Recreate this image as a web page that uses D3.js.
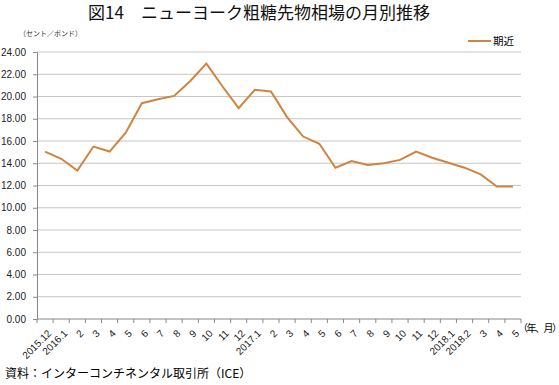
<!DOCTYPE html>
<html>
<head>
<meta charset="utf-8">
<script src="https://cdn.jsdelivr.net/npm/d3@7"></script>
<style>
  body { margin: 0; background: #fff; }
  text { font-family: "Liberation Sans", Arial, "Noto Sans CJK JP", sans-serif; }
  .jp { font-family: "Noto Sans CJK JP", sans-serif; }
</style>
</head>
<body>
<div id="chart"></div>
<script>
// data
var months = ["2015.12","2016.1","2","3","4","5","6","7","8","9","10","11","12",
              "2017.1","2","3","4","5","6","7","8","9","10","11","12",
              "2018.1","2018.2","3","4","5"];
var kikin = [15.05, 14.4, 13.35, 15.5, 15.05, 16.75, 19.4, 19.75, 20.05, 21.4, 22.95, 20.9, 18.95,
             20.6, 20.45, 18.15, 16.4, 15.75, 13.6, 14.2, 13.85, 14.0, 14.3, 15.05, 14.5,
             14.05, 13.6, 13.0, 11.9, 11.9];
var yTicks = [0, 2, 4, 6, 8, 10, 12, 14, 16, 18, 20, 22, 24];

var width = 559, height = 385;
var plotL = 37, plotR = 521, plotT = 52, plotB = 319;

var svg = d3.select("#chart").append("svg")
    .attr("width", width)
    .attr("height", height);

var x = d3.scaleBand()
    .domain(d3.range(months.length))
    .range([plotL, plotR]);

var y = d3.scaleLinear()
    .domain([0, 24])
    .range([plotB, plotT]);

// title
svg.append("text")
    .attr("class", "jp")
    .attr("x", 259).attr("y", 19)
    .attr("text-anchor", "middle")
    .style("font-size", "17px")
    .style("fill", "#111")
    .text("図14　ニューヨーク粗糖先物相場の月別推移");

svg.append("text")
    .attr("class", "jp")
    .attr("x", 19).attr("y", 36)
    .style("font-size", "7px")
    .style("fill", "#333")
    .text("（セント／ポンド）");

// grid
svg.append("g")
    .selectAll("line")
    .data(yTicks.filter(function(d) { return d > 0; }))
    .enter().append("line")
    .attr("x1", plotL).attr("x2", plotR)
    .attr("y1", function(d) { return y(d); })
    .attr("y2", function(d) { return y(d); })
    .style("stroke", "#c6c6c6")
    .style("stroke-width", 1);

// y axis
var yAxis = svg.append("g")
    .attr("transform", "translate(" + plotL + ",0)")
    .call(d3.axisLeft(y).tickValues(yTicks).tickSize(4).tickPadding(7)
          .tickFormat(d3.format(".2f")));
yAxis.select(".domain").style("stroke", "#888");
yAxis.selectAll(".tick line").style("stroke", "#888");
yAxis.selectAll("text").style("font-size", "10px").style("fill", "#222");

// x axis
var xAxis = svg.append("g")
    .attr("transform", "translate(0," + plotB + ")");
xAxis.append("line")
    .attr("x1", plotL).attr("x2", plotR)
    .style("stroke", "#888");
xAxis.selectAll("line.tk")
    .data(d3.range(months.length + 1))
    .enter().append("line")
    .attr("class", "tk")
    .attr("x1", function(i) { return plotL + i * x.step(); })
    .attr("x2", function(i) { return plotL + i * x.step(); })
    .attr("y1", 0).attr("y2", 4)
    .style("stroke", "#888");
xAxis.selectAll("text")
    .data(months)
    .enter().append("text")
    .attr("transform", function(d, i) {
      return "translate(" + (x(i) + x.bandwidth() / 2 + 2) + ",10) rotate(-45)";
    })
    .attr("text-anchor", "end")
    .attr("dy", "0.7em")
    .style("font-size", "10px")
    .style("fill", "#222")
    .text(function(d) { return d; });

svg.append("text")
    .attr("class", "jp")
    .attr("x", 518).attr("y", 332)
    .style("font-size", "10px")
    .style("letter-spacing", "-1.5px")
    .text("（年、月）");

// line
var line = d3.line()
    .x(function(d, i) { return x(i) + x.bandwidth() / 2; })
    .y(function(d) { return y(d); });

svg.append("path")
    .datum(kikin)
    .attr("d", line)
    .style("fill", "none")
    .style("stroke", "#cf8440")
    .style("stroke-width", 2);

// legend
svg.append("line")
    .attr("x1", 468).attr("x2", 491)
    .attr("y1", 41).attr("y2", 41)
    .style("stroke", "#cf8440")
    .style("stroke-width", 2);
svg.append("text")
    .attr("class", "jp")
    .attr("x", 493).attr("y", 45)
    .style("font-size", "10.5px")
    .text("期近");

// source
svg.append("text")
    .attr("class", "jp")
    .attr("x", 5).attr("y", 378)
    .style("font-size", "12px")
    .text("資料：インターコンチネンタル取引所（ICE）");
</script>
</body>
</html>
